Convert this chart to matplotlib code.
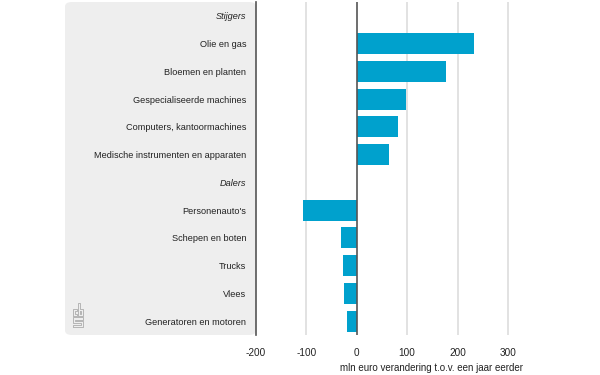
import matplotlib
matplotlib.use('Agg')
import matplotlib.pyplot as plt
from matplotlib.patches import FancyBboxPatch
from matplotlib.lines import Line2D

plt.rcParams['font.family'] = ['Liberation Sans', 'DejaVu Sans']

labels = ['Stijgers', 'Olie en gas', 'Bloemen en planten', 'Gespecialiseerde machines',
          'Computers, kantoormachines', 'Medische instrumenten en apparaten',
          'Dalers', "Personenauto's", 'Schepen en boten', 'Trucks', 'Vlees',
          'Generatoren en motoren']
values = [None, 233, 178, 98, 82, 64, None, -107, -32, -27, -25, -20]
headers = ['Stijgers', 'Dalers']
ticks = [-200, -100, 0, 100, 200, 300]

W, H = 600, 375
fig = plt.figure(figsize=(6, 3.75), dpi=100)

# grey panel behind the category labels
panel = FancyBboxPatch((65 / W, 40 / H), (256 - 65) / W, (373 - 40) / H,
                       boxstyle='round,pad=0,rounding_size=0.012',
                       transform=fig.transFigure, facecolor='#eeeeee',
                       edgecolor='none', zorder=-5)
fig.patches.append(panel)

# small logo outline in the corner
logo = [
    [(73, 316), (73, 309), (77, 309), (77, 311), (75, 311), (75, 314), (77, 314), (77, 316), (73, 316)],
    [(78, 316), (78, 303), (80, 303), (80, 309), (83, 309), (83, 316), (78, 316)],
    [(80, 311), (81, 311), (81, 314), (80, 314), (80, 311)],
    [(73, 327), (83, 327), (83, 321), (75, 321), (75, 320), (83, 320), (83, 317),
     (73, 317), (73, 323), (81, 323), (81, 325), (73, 325), (73, 327)],
]
for shape in logo:
    xs = [p[0] / W for p in shape]
    ys = [1 - p[1] / H for p in shape]
    fig.add_artist(Line2D(xs, ys, transform=fig.transFigure, color='#b5b5b5', lw=0.7))

ax = fig.add_axes([256 / W, 40 / H, (523 - 256) / W, (373 - 40) / H])
ax.patch.set_alpha(0)

pos = list(range(len(labels)))
for i, v in zip(pos, values):
    if v is not None:
        ax.barh(i, v, height=0.76, color='#00a1cd', zorder=3)

ax.set_ylim(len(labels) - 0.5, -0.5)
ax.set_xlim(-200, 330)
ax.set_yticks(pos)
ax.set_yticklabels(labels)
for t in ax.get_yticklabels():
    if t.get_text() in headers:
        t.set_style('italic')
ax.tick_params(axis='y', length=0, pad=7, labelsize=6.6, labelcolor='#222222')
ax.set_xticks(ticks)
ax.set_xticklabels([str(t) for t in ticks])
ax.tick_params(axis='x', length=0, pad=9, labelsize=7.2, labelcolor='#222222')

for t in ticks:
    if t not in (-200, 0):
        ax.axvline(t, color='#dddddd', lw=1.2, zorder=1)
ax.axvline(0, color='#555555', lw=1.2, zorder=4)

for s in ['top', 'right', 'bottom']:
    ax.spines[s].set_visible(False)
ax.spines['left'].set_color('#555555')
ax.spines['left'].set_linewidth(1.2)

ax.set_xlabel('mln euro verandering t.o.v. een jaar eerder', fontsize=7.0,
              color='#222222', loc='right', labelpad=4)

fig.savefig('out.png', dpi=100)
